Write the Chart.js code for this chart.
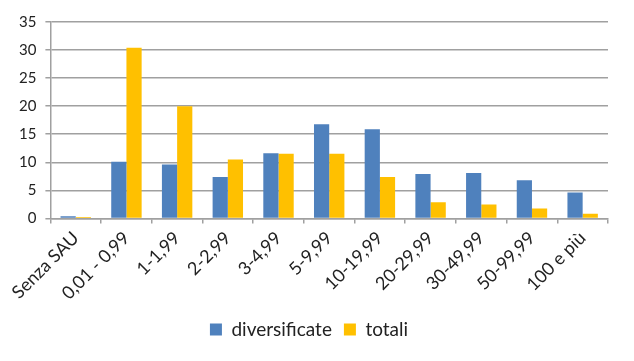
<!DOCTYPE html>
<html><head><meta charset="utf-8">
<script src="https://cdn.jsdelivr.net/npm/chart.js@4/dist/chart.umd.min.js"></script>
<style>html,body{margin:0;padding:0;background:#fff}#wrap{width:634px;height:361px}</style>
</head><body><div id="wrap"><canvas id="c" width="634" height="361"></canvas></div>
<script>
const categories = ["Senza SAU","0,01 - 0,99","1-1,99","2-2,99","3-4,99","5-9,99","10-19,99","20-29,99","30-49,99","50-99,99","100 e più"];
const diversificate = [0.4,10.1,9.6,7.4,11.6,16.8,15.9,7.9,8.1,6.8,4.6];
const totali = [0.25,30.4,20.0,10.5,11.5,11.5,7.4,2.9,2.5,1.75,0.85];
const yTicks = [0,5,10,15,20,25,30,35];

new Chart(document.getElementById('c'), {
  type: 'bar',
  data: {
    labels: categories,
    datasets: [
      {label: 'diversificate', data: diversificate, backgroundColor: '#4F81BD', categoryPercentage: 0.6, barPercentage: 1.0},
      {label: 'totali', data: totali, backgroundColor: '#FFC000', categoryPercentage: 0.6, barPercentage: 1.0}
    ]
  },
  options: {
    responsive: false,
    animation: false,
    layout: {padding: {top: 22, right: 26, left: 10, bottom: 12}},
    plugins: {
      tooltip: {enabled: false},
      legend: {
        position: 'bottom',
        labels: {font: {family: 'Lato', size: 19}, color: '#222', boxWidth: 12, boxHeight: 12, padding: 12}
      }
    },
    scales: {
      x: {
        grid: {offset: true, drawOnChartArea: false, drawTicks: true, tickLength: 5, color: '#A0A0A0', lineWidth: 1.5},
        border: {color: '#A0A0A0', width: 1.5},
        ticks: {font: {family: 'Lato', size: 18}, color: '#222', maxRotation: 45, minRotation: 45, padding: 4}
      },
      y: {
        min: 0, max: 35,
        afterBuildTicks: (s) => { s.ticks = yTicks.map(v => ({value: v})); },
        grid: {color: '#A0A0A0', lineWidth: 1.5, drawTicks: true, tickLength: 5},
        border: {color: '#A0A0A0', width: 1.5},
        ticks: {font: {family: 'Lato', size: 15}, color: '#222', padding: 9}
      }
    }
  }
});
</script></body></html>
